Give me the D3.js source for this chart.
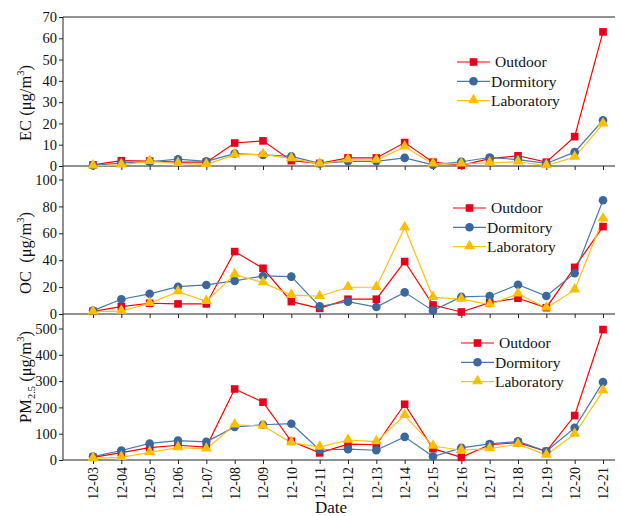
<html>
<head>
<style>
  body { margin: 0; background: #fff; }
  svg text { font-family: "Times New Roman", Times, "Liberation Serif", "DejaVu Serif", serif; fill: #111; }
</style>
</head>
<body>
  <svg id="svg" width=622 height=516></svg>

  <script src="https://d3js.org/d3.v7.min.js"></script>
  <script type="text/javascript">
  // dates on the x axis
  const dates = ["12-03","12-04","12-05","12-06","12-07","12-08","12-09","12-10","12-11","12-12",
                 "12-13","12-14","12-15","12-16","12-17","12-18","12-19","12-20","12-21"];
  const series = ["Outdoor", "Dormitory", "Laboratory"];

  // EC (ug/m3)
  const ecOutdoor    = [0.5, 2.5, 2.3, 1.8, 1.8, 10.8, 11.8, 2.5, 1.2, 3.8, 3.8, 11.0, 1.8, 0.3, 3.5, 4.8, 1.8, 13.8, 63.0];
  const ecDormitory  = [0.2, 1.5, 2.0, 3.2, 2.2, 5.8, 5.2, 4.5, 1.2, 2.2, 2.2, 3.8, 0.5, 2.0, 4.0, 3.0, 1.2, 6.5, 21.5];
  const ecLaboratory = [0.1, 0.5, 2.2, 1.2, 0.8, 5.2, 5.5, 3.5, 1.0, 3.0, 2.8, 9.0, 1.0, 1.0, 1.5, 2.0, 0.2, 4.2, 19.8];

  // OC (ug/m3)
  const ocOutdoor    = [2.0, 5.5, 8.0, 7.5, 7.5, 46.4, 34.0, 9.2, 4.2, 11.0, 11.0, 39.0, 6.7, 1.5, 8.5, 11.7, 4.7, 34.7, 65.0];
  const ocDormitory  = [2.5, 11.0, 15.0, 20.3, 21.6, 24.6, 28.3, 27.8, 5.7, 9.2, 5.2, 16.1, 2.5, 12.7, 13.4, 21.8, 13.4, 30.3, 84.6];
  const ocLaboratory = [1.7, 2.2, 8.0, 16.6, 9.4, 29.3, 23.3, 14.1, 13.2, 19.9, 19.9, 64.3, 12.4, 11.0, 7.0, 15.0, 4.5, 17.9, 70.7];

  // PM2.5 (ug/m3)
  const pmOutdoor    = [10, 28, 47, 56, 49, 270, 220, 71, 27, 60, 58, 212, 43, 10, 58, 66, 33, 169, 496];
  const pmDormitory  = [13, 36, 63, 74, 69, 126, 134, 138, 38, 41, 37, 88, 13, 46, 61, 71, 33, 122, 296];
  const pmLaboratory = [6, 10, 29, 47, 42, 134, 129, 66, 49, 76, 70, 170, 53, 37, 43, 60, 19, 99, 263];

  const ecTicks = [0, 10, 20, 30, 40, 50, 60, 70];
  const ocTicks = [0, 20, 40, 60, 80, 100];
  const pmTicks = [0, 100, 200, 300, 400, 500];

  const colors = { Outdoor: "#ff0000", Dormitory: "#4a78ad", Laboratory: "#ffc20e" };
  const markerFill = { Outdoor: "#e8001c", Dormitory: "#3a679e", Laboratory: "#ffbf00" };
  const serif = '"Times New Roman", Times, "Liberation Serif", "DejaVu Serif", serif';

  const svg = d3.select("#svg");
  const left = 63, right = 615;

  const x = d3.scalePoint().domain(dates).range([93, 603]);

  const panels = [
    { name: "EC", data: [ecOutdoor, ecDormitory, ecLaboratory], ticks: ecTicks, max: 70,
      y0: 166, y1: 17, legend: { x: 457, y: 62 }, top: true },
    { name: "OC", data: [ocOutdoor, ocDormitory, ocLaboratory], ticks: ocTicks, max: 100,
      y0: 314, y1: 179.5, legend: { x: 453, y: 208 } },
    { name: "PM", data: [pmOutdoor, pmDormitory, pmLaboratory], ticks: pmTicks, max: 500,
      y0: 460, y1: 328.5, legend: { x: 461, y: 343 }, dates: true }
  ];

  function marker(g, s, cx, cy) {
    if (s === "Outdoor") {
      g.append("rect").attr("x", cx - 3.8).attr("y", cy - 3.8).attr("width", 7.6).attr("height", 7.6)
        .attr("fill", markerFill[s]);
    } else if (s === "Dormitory") {
      g.append("circle").attr("cx", cx).attr("cy", cy).attr("r", 4.3).attr("fill", markerFill[s]);
    } else {
      g.append("path").attr("d", d3.symbol(d3.symbolTriangle, 52)())
        .attr("transform", "translate(" + cx + "," + (cy - 0.5) + ")")
        .attr("fill", markerFill[s]);
    }
  }

  // continuous y axis line
  svg.append("line").attr("x1", left).attr("x2", left).attr("y1", 17).attr("y2", 460)
    .attr("stroke", "#222").attr("stroke-width", 1);

  panels.forEach(function (p) {
    const y = d3.scaleLinear().domain([0, p.max]).range([p.y0, p.y1]);
    const g = svg.append("g");

    // y axis
    const ya = g.append("g").attr("transform", "translate(" + left + ",0)")
      .call(d3.axisLeft(y).tickValues(p.ticks).tickSize(4).tickSizeOuter(0).tickPadding(2));
    ya.attr("font-family", serif);
    ya.select(".domain").remove();
    ya.selectAll("line").attr("stroke", "#222");
    ya.selectAll("text").attr("font-size", 14.5).attr("fill", "#111");

    // x axis
    const xa = g.append("g").attr("transform", "translate(0," + p.y0 + ")")
      .call(d3.axisBottom(x).tickSize(4).tickSizeOuter(0));
    xa.attr("font-family", serif);
    xa.select(".domain").remove();
    xa.selectAll("line").attr("stroke", "#222");
    if (p.dates) {
      xa.selectAll("text")
        .attr("font-size", 14).attr("fill", "#111")
        .attr("text-anchor", "end").attr("dy", "0.35em")
        .attr("transform", "translate(0,3) rotate(-90)")
        .attr("x", -4).attr("y", 0);
    } else {
      xa.selectAll("text").remove();
    }
    g.append("line").attr("x1", left).attr("x2", right).attr("y1", p.y0).attr("y2", p.y0)
      .attr("stroke", "#222");
    if (p.top) {
      g.append("line").attr("x1", left).attr("x2", right).attr("y1", p.y1).attr("y2", p.y1)
        .attr("stroke", "#222");
    }

    // series lines
    const line = d3.line().x((d, i) => x(dates[i])).y(d => y(d));
    series.forEach(function (s, k) {
      g.append("path").datum(p.data[k]).attr("d", line)
        .attr("fill", "none").attr("stroke", colors[s]).attr("stroke-width", 1.2);
    });
    series.forEach(function (s, k) {
      const mg = g.append("g");
      p.data[k].forEach(function (v, i) { marker(mg, s, x(dates[i]), y(v)); });
    });

    // legend
    series.forEach(function (s, k) {
      const ly = p.legend.y + k * 19.3;
      const lg = g.append("g");
      lg.append("line").attr("x1", p.legend.x).attr("x2", p.legend.x + 33)
        .attr("y1", ly).attr("y2", ly).attr("stroke", colors[s]).attr("stroke-width", 1.2);
      marker(lg, s, p.legend.x + 16.5, ly);
      lg.append("text").attr("x", p.legend.x + (s === "Outdoor" ? 38 : 34)).attr("y", ly)
        .attr("dy", "0.35em").attr("font-size", 15.5).attr("font-family", serif).text(s);
    });
  });

  // y labels
  function ylabel(cx, cy, parts) {
    const t = svg.append("text").attr("transform", "translate(" + cx + "," + cy + ") rotate(-90)")
      .attr("text-anchor", "middle").attr("font-size", 16.5).attr("font-family", serif);
    parts.forEach(function (pt) {
      const ts = t.append("tspan").text(pt[0]);
      if (pt[1] === "sup") ts.attr("font-size", 10.5).attr("dy", -7);
      if (pt[1] === "sub") ts.attr("font-size", 10.5).attr("dy", 4);
      if (pt[1] === "back") ts.attr("dy", 7);
      if (pt[1] === "backsub") ts.attr("dy", -4);
    });
  }
  ylabel(31, 103, [["EC (μg/m"], ["3", "sup"], [")", "back"]]);
  ylabel(31, 253, [["OC\u00a0 (μg/m"], ["3", "sup"], [")", "back"]]);
  ylabel(31, 377, [["PM"], ["2.5", "sub"], [" (μg/m", "backsub"], ["3", "sup"], [")", "back"]]);

  svg.append("text").attr("x", 331).attr("y", 513).attr("text-anchor", "middle")
    .attr("font-size", 17).attr("font-family", serif).text("Date");
  </script>
</body>
</html>
